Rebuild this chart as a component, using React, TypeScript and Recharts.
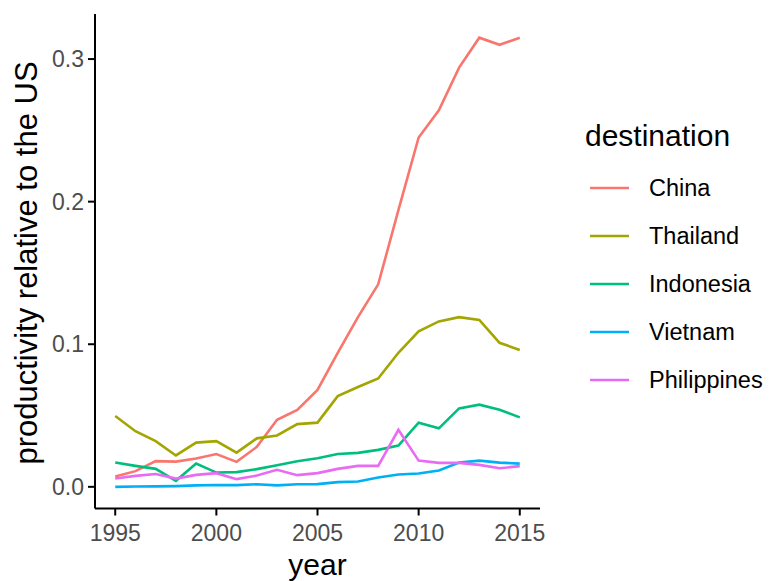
import { LineChart, Line, XAxis, YAxis, Label } from "recharts";

const years = [
  1995, 1996, 1997, 1998, 1999, 2000, 2001, 2002, 2003, 2004, 2005, 2006, 2007,
  2008, 2009, 2010, 2011, 2012, 2013, 2014, 2015,
];
const china = [
  0.0072, 0.011, 0.018, 0.0177, 0.0198, 0.023, 0.0175, 0.028, 0.047, 0.054,
  0.068, 0.094, 0.119, 0.142, 0.194, 0.245, 0.264, 0.294, 0.315, 0.31, 0.315,
];
const thailand = [
  0.0497, 0.039, 0.032, 0.022, 0.031, 0.032, 0.024, 0.034, 0.036, 0.044, 0.045,
  0.0636, 0.07, 0.076, 0.094, 0.109, 0.116, 0.119, 0.117, 0.101, 0.096,
];
const indonesia = [
  0.017, 0.0147, 0.0126, 0.0042, 0.0163, 0.01, 0.0103, 0.0124, 0.0152, 0.018,
  0.02, 0.023, 0.0238, 0.0259, 0.0289, 0.045, 0.041, 0.055, 0.0576, 0.054,
  0.0487,
];
const vietnam = [
  0.0, 0.0002, 0.0003, 0.0005, 0.001, 0.0013, 0.0012, 0.0018, 0.001, 0.0018,
  0.0019, 0.0033, 0.0037, 0.0065, 0.0086, 0.0093, 0.0114, 0.017, 0.0184, 0.017,
  0.0163,
];
const philippines = [
  0.0058, 0.0077, 0.009, 0.0058, 0.0084, 0.0096, 0.0054, 0.0079, 0.0119,
  0.0082, 0.0096, 0.0126, 0.0147, 0.0147, 0.04, 0.0184, 0.0168, 0.0168, 0.0154,
  0.013, 0.0145,
];

const xTicks = [1995, 2000, 2005, 2010, 2015];
const yTicks = [0, 0.1, 0.2, 0.3];

const series = [
  { key: "China", values: china, color: "#F8766D" },
  { key: "Thailand", values: thailand, color: "#A3A500" },
  { key: "Indonesia", values: indonesia, color: "#00BF7D" },
  { key: "Vietnam", values: vietnam, color: "#00B0F6" },
  { key: "Philippines", values: philippines, color: "#E76BF3" },
];

const data = years.map((year, i) => {
  const row: Record<string, number> = { year };
  series.forEach((s) => (row[s.key] = s.values[i]));
  return row;
});

const font = "'Liberation Sans', Arial, Helvetica, sans-serif";

// legend drawn beside the chart, same look as ggplot's
function LegendBox() {
  return (
    <svg
      width={189}
      height={330}
      style={{ position: "absolute", left: 580, top: 90, fontFamily: font }}
    >
      <text x={5} y={56} fontSize={30} fill="#000">
        destination
      </text>
      {series.map((s, i) => (
        <g key={s.key}>
          <line
            x1={10}
            x2={49}
            y1={98 + i * 48}
            y2={98 + i * 48}
            stroke={s.color}
            strokeWidth={2.6}
          />
          <text x={69} y={106 + i * 48} fontSize={23.5} fill="#000">
            {s.key}
          </text>
        </g>
      ))}
    </svg>
  );
}

export default function App() {
  return (
    <div style={{ position: "absolute", left: 0, top: 0, width: 769, height: 581 }}>
      <LineChart
        width={769}
        height={581}
        data={data}
        margin={{ top: 14, right: 229, bottom: 0, left: 0 }}
        style={{ fontFamily: font }}
      >
        <XAxis
          dataKey="year"
          type="number"
          domain={[1994, 2016]}
          ticks={xTicks}
          allowDataOverflow
          height={72.5}
          tickSize={7}
          tickMargin={9}
          stroke="#000"
          strokeWidth={2}
          tick={{ fontSize: 23, fill: "#4D4D4D" }}
        >
          <Label
            content={() => (
              <text x={317.5} y={575} textAnchor="middle" fontSize={30} fill="#000">
                year
              </text>
            )}
          />
        </XAxis>
        <YAxis
          type="number"
          domain={[-0.0152, 0.3316]}
          ticks={yTicks}
          allowDataOverflow
          width={95}
          tickSize={7}
          tickMargin={4}
          stroke="#000"
          strokeWidth={2}
          tickFormatter={(v: number) => v.toFixed(1)}
          tick={{ fontSize: 23, fill: "#4D4D4D" }}
        >
          <Label
            content={() => (
              <text
                x={37}
                y={263}
                transform="rotate(-90, 37, 263)"
                textAnchor="middle"
                fontSize={31}
                fill="#000"
              >
                productivity relative to the US
              </text>
            )}
          />
        </YAxis>
        {series.map((s) => (
          <Line
            key={s.key}
            dataKey={s.key}
            stroke={s.color}
            strokeWidth={2.6}
            dot={false}
            isAnimationActive={false}
          />
        ))}
      </LineChart>
      <LegendBox />
    </div>
  );
}
